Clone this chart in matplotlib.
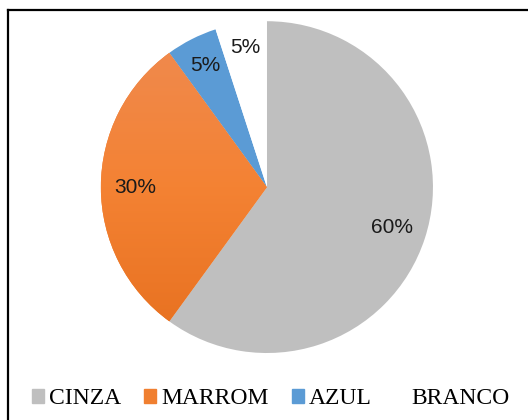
import matplotlib.pyplot as plt
import numpy as np
from matplotlib.colors import LinearSegmentedColormap
from matplotlib.lines import Line2D

categories = ['CINZA', 'MARROM', 'AZUL', 'BRANCO']
values = [60, 30, 5, 5]
labels = ['60%', '30%', '5%', '5%']
colors = ['#BFBFBF', '#F07F30', '#5B9BD5', '#FFFFFF']

fig = plt.figure(figsize=(5.28, 4.2), dpi=100)

# frame (left + top lines only, like the cropped screenshot)
fig.add_artist(Line2D([0.016, 0.016], [0, 0.977], color='black', lw=1.6))
fig.add_artist(Line2D([0.016, 1.0], [0.977, 0.977], color='black', lw=1.6))

ax = fig.add_axes([0.191, 0.1595, 0.629, 0.790])
wedges, _ = ax.pie(values, colors=colors, startangle=90, counterclock=False,
                   wedgeprops=dict(linewidth=0))
ax.set_xlim(-1, 1)
ax.set_ylim(-1, 1)
ax.set_aspect('equal')

# vertical gradient on the orange slice
grad = LinearSegmentedColormap.from_list('or', ['#E66F1E', '#F48233', '#EF8B52'])
img = ax.imshow(np.linspace(0, 1, 256).reshape(-1, 1), cmap=grad, origin='lower',
                extent=[-1, 1, -1, 1], aspect='auto', zorder=wedges[1].get_zorder() + 0.1)
img.set_clip_path(wedges[1])

# percent labels
dists = [0.79, 0.79, 0.82, 0.85]
for w, lab, d in zip(wedges, labels, dists):
    ang = np.deg2rad((w.theta1 + w.theta2) / 2)
    ax.text(d * np.cos(ang), d * np.sin(ang), lab, ha='center', va='center',
            fontsize=15, family='Liberation Sans', color='#1a1a1a', zorder=5)

# legend
handles = [plt.Rectangle((0, 0), 1, 1, color=c) for c in colors]
fig.legend(handles, categories, loc='center', bbox_to_anchor=(0.513, 0.05),
           ncol=4, frameon=False, handlelength=0.5, handleheight=0.5,
           handletextpad=0.2, columnspacing=1.0,
           prop={'family': 'Liberation Serif', 'size': 17})

fig.savefig('out.png', dpi=100)
